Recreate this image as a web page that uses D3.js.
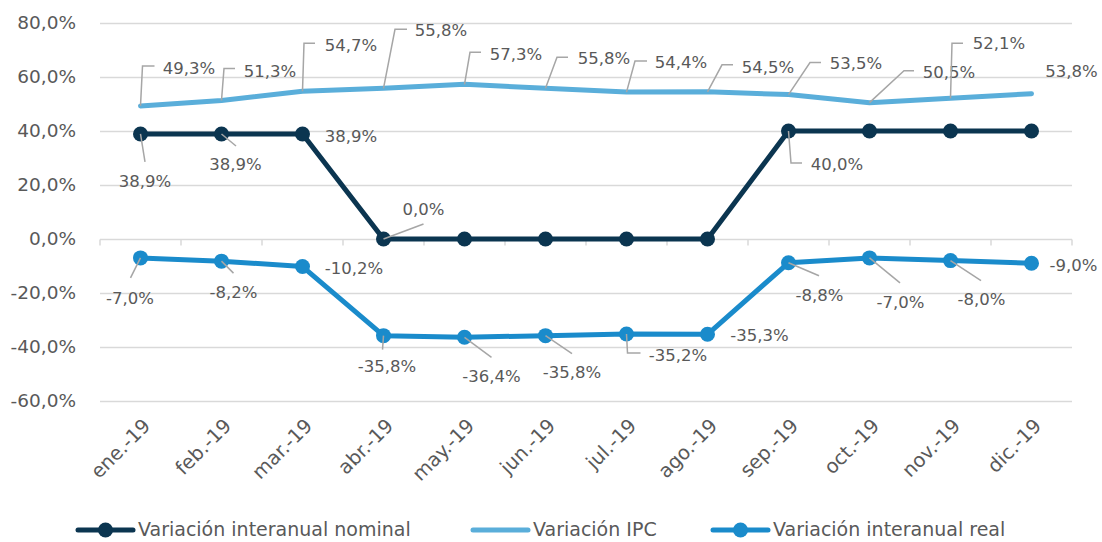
<!DOCTYPE html>
<html>
<head>
<meta charset="utf-8">
<script src="https://cdn.jsdelivr.net/npm/d3@7"></script>
<style>
  html, body { margin: 0; padding: 0; background: #fff; }
  svg { display: block; }
  text { font-family: "DejaVu Sans", sans-serif; fill: #595959; }
</style>
</head>
<body>
<svg id="chart" width="1102" height="542"></svg>
<script>
// ---------- DATA ----------
const categories = ["ene.-19","feb.-19","mar.-19","abr.-19","may.-19","jun.-19","jul.-19","ago.-19","sep.-19","oct.-19","nov.-19","dic.-19"];
const nominal = [38.9, 38.9, 38.9, 0.0, 0.0, 0.0, 0.0, 0.0, 40.0, 40.0, 40.0, 40.0];
const ipc     = [49.3, 51.3, 54.7, 55.8, 57.3, 55.8, 54.4, 54.5, 53.5, 50.5, 52.1, 53.8];
const real    = [-7.0, -8.2, -10.2, -35.8, -36.4, -35.8, -35.2, -35.3, -8.8, -7.0, -8.0, -9.0];
const yTicks  = [-60, -40, -20, 0, 20, 40, 60, 80];
const seriesNames = ["Variación interanual nominal", "Variación IPC", "Variación interanual real"];

// ---------- LABEL LAYOUT (offsets from the data point, px) ----------
// [index, textDx, textDy, leader points relative to the data point]
const nominalLabels = [
  [0, 4.5, 47, [[0,0],[4.5,28]]],
  [1, 14, 30, [[0,0],[14.5,12]]],
  [2, 48.5, 2, null],
  [3, 40, -30, [[0,0],[40,-15]]],
  [8, 48.5, 33, [[0,0],[2.5,32],[13.5,32]]]
];
const ipcLabels = [
  [0, 48.5, -38, [[0,0],[2,-40],[14,-40]]],
  [1, 48.5, -29.5, [[0,0],[2.5,-32],[13.5,-32]]],
  [2, 48.5, -46, [[0,0],[1.5,-48],[12.5,-48]]],
  [3, 57.5, -58, [[0,0],[11.5,-59],[23.5,-59]]],
  [4, 51.5, -30, [[0,0],[5.5,-32],[16.5,-32]]],
  [5, 58.5, -30, [[0,0],[11.5,-31],[22.5,-31]]],
  [6, 54.5, -30, [[0,0],[8.5,-31],[20.5,-31]]],
  [7, 60.5, -25, [[0,0],[14.5,-27],[25.5,-27]]],
  [8, 67.5, -31, [[0,0],[21.5,-32],[32.5,-32]]],
  [9, 79.5, -31, [[0,0],[34.5,-32],[44.5,-32]]],
  [10, 48.5, -55, [[0,0],[1.5,-55],[12.5,-55]]],
  [11, 40, -23, null]
];
const realLabels = [
  [0, -10.5, 40, [[0,0],[-10,20]]],
  [1, 12, 31, [[0,0],[12,12]]],
  [2, 51.5, 2, null],
  [3, 3.5, 30, [[0,0],[-1,14]]],
  [4, 27, 39, [[0,0],[27,20]]],
  [5, 26.5, 36, [[0,0],[26.5,18]]],
  [6, 51.5, 21, [[0,0],[1,19],[14,19]]],
  [7, 52, 1, null],
  [8, 31, 32, [[0,0],[30.5,13]]],
  [9, 31, 44, [[0,0],[30.5,25]]],
  [10, 31, 38, [[0,0],[30.5,20]]],
  [11, 42, 2, null]
];

// ---------- STYLE ----------
const colNominal = "#0B3550";
const colIpc = "#5AAEDA";
const colReal = "#1A8BCB";
const gridCol = "#D9D9D9";
const leaderCol = "#A6A6A6";

const svg = d3.select("#chart");
const plotLeft = 100, plotRight = 1072, plotTop = 23, plotBottom = 401;

const x = d3.scalePoint().domain(categories).range([plotLeft, plotRight]).padding(0.5);
const step = x.step();
const y = d3.scaleLinear().domain([-60, 80]).range([plotBottom, plotTop]);

const fmt = v => d3.format(".1f")(v).replace(".", ",").replace("−", "-") + "%";

// gridlines
svg.append("g").selectAll("line").data(yTicks.filter(t => t !== 0)).join("line")
  .attr("x1", plotLeft).attr("x2", plotRight)
  .attr("y1", d => Math.round(y(d)) + 0.5).attr("y2", d => Math.round(y(d)) + 0.5)
  .attr("stroke", gridCol).attr("stroke-width", 1.5);

// y axis labels
const yAxis = d3.axisLeft(y).tickValues(yTicks).tickSize(0).tickPadding(0).tickFormat(fmt);
const gy = svg.append("g").attr("transform", `translate(76,0)`).call(yAxis);
gy.select(".domain").remove();
gy.selectAll("text").style("font-size", "18.5px").style("fill", "#595959")
  .style("font-family", '"DejaVu Sans", sans-serif');

// category axis at 0 with tick marks at boundaries
const y0 = Math.round(y(0)) + 0.5;
const gx = svg.append("g");
gx.append("line").attr("x1", plotLeft).attr("x2", plotRight).attr("y1", y0).attr("y2", y0)
  .attr("stroke", gridCol).attr("stroke-width", 1.5);
const bounds = d3.range(categories.length + 1).map(i => plotLeft + i * step);
gx.selectAll("line.tick").data(bounds).join("line").attr("class", "tick")
  .attr("x1", d => d).attr("x2", d => d).attr("y1", y0).attr("y2", y0 + 6)
  .attr("stroke", gridCol).attr("stroke-width", 1.5);

// x labels
svg.append("g").selectAll("text").data(categories).join("text")
  .attr("transform", d => `translate(${x(d) + 11},${427}) rotate(-45)`)
  .attr("text-anchor", "end")
  .style("font-size", "19.5px")
  .text(d => d);

// lines
const line = d3.line().x((d, i) => x(categories[i])).y(d => y(d));
function drawSeries(vals, col, markers) {
  svg.append("path").datum(vals).attr("d", line)
    .attr("fill", "none").attr("stroke", col).attr("stroke-width", 5)
    .attr("stroke-linejoin", "round").attr("stroke-linecap", "round");
  if (markers) {
    svg.append("g").selectAll("circle").data(vals).join("circle")
      .attr("cx", (d, i) => x(categories[i])).attr("cy", d => y(d)).attr("r", 7.5)
      .attr("fill", col);
  }
}
drawSeries(nominal, colNominal, true);
drawSeries(ipc, colIpc, false);
drawSeries(real, colReal, true);

// data labels
function drawLabels(vals, layout) {
  const g = svg.append("g");
  layout.forEach(([i, dx, dy, leader]) => {
    const px = x(categories[i]), py = y(vals[i]);
    if (leader) {
      g.append("polyline")
        .attr("points", leader.map(([a, b]) => `${px + a},${py + b}`).join(" "))
        .attr("fill", "none").attr("stroke", leaderCol).attr("stroke-width", 1.5);
    }
    g.append("text").attr("x", px + dx).attr("y", py + dy).attr("dy", "0.36em")
      .attr("text-anchor", "middle").style("font-size", "16.5px")
      .text(fmt(vals[i]));
  });
}
drawLabels(nominal, nominalLabels);
drawLabels(ipc, ipcLabels);
drawLabels(real, realLabels);

// legend
const legendY = 530;
const legendItems = [
  { name: seriesNames[0], col: colNominal, marker: true, x0: 78 },
  { name: seriesNames[1], col: colIpc, marker: false, x0: 473 },
  { name: seriesNames[2], col: colReal, marker: true, x0: 713 }
];
const lg = svg.append("g");
legendItems.forEach(it => {
  lg.append("line").attr("x1", it.x0).attr("x2", it.x0 + 55).attr("y1", legendY).attr("y2", legendY)
    .attr("stroke", it.col).attr("stroke-width", 5).attr("stroke-linecap", "round");
  if (it.marker) lg.append("circle").attr("cx", it.x0 + 27.5).attr("cy", legendY).attr("r", 7.5).attr("fill", it.col);
  lg.append("text").attr("x", it.x0 + 60).attr("y", legendY).attr("dy", "0.34em")
    .style("font-size", "19px").text(it.name);
});
</script>
</body>
</html>
